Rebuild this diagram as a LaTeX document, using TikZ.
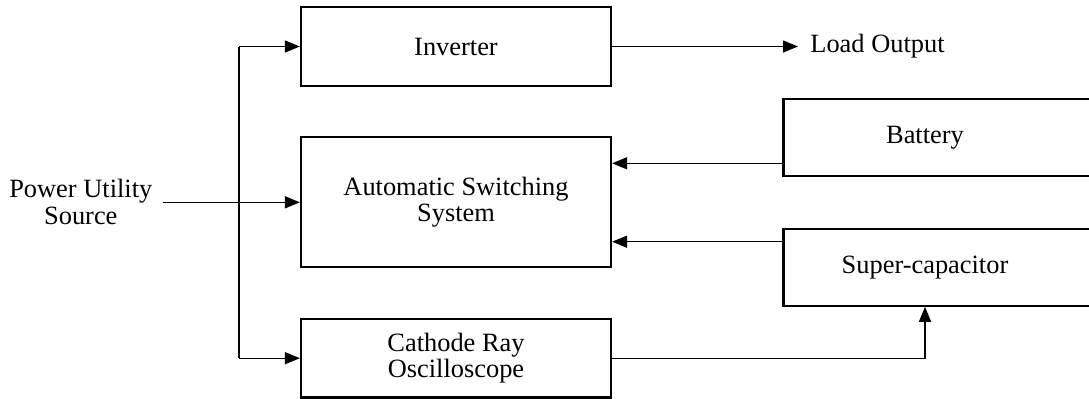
\documentclass[tikz,border=0pt]{standalone}
\usepackage{fontspec}
\setmainfont{Liberation Serif}
\usetikzlibrary{arrows.meta,calc}
\tikzset{
  box/.style={draw=black, line width=1.1pt, rectangle, inner sep=0pt, align=center},
  lbl/.style={inner sep=0pt, align=center},
  conn/.style={draw=black, line width=0.7pt},
  arr/.style={conn, -{Triangle[length=7.5pt,width=6pt]}},
}
\begin{document}
\begin{tikzpicture}[x=0.5pt,y=-0.5pt,
  font=\fontsize{13.2}{13.2}\selectfont]
\useasboundingbox (0,0) rectangle (1089,398);
\clip (0,0) rectangle (1089,398);
\fill[white] (0,0) rectangle (1089,398);
% boxes
\node[box, minimum width=155pt, minimum height=39.2pt] (inv) at (456,46.5) {Inverter};
\node[box, minimum width=155pt, minimum height=65pt] (ass) at (456,202.3) {Automatic Switching\\System};
\node[box, minimum width=155pt, minimum height=39.2pt] (cro) at (456,358.2) {Cathode Ray\\Oscilloscope};
\node[box, minimum width=160pt, minimum height=38.8pt, anchor=west] (bat) at (782.3,137.5) {};
\node[lbl] (battxt) at (925,137.5) {Battery};
\node[box, minimum width=160pt, minimum height=38.5pt, anchor=west] (sc) at (782.3,267.2) {};
\node[lbl] (sctxt) at (925,267.2) {Super-capacitor};
% free labels
\node[lbl, anchor=east] (src) at (152.7,202) {Power Utility\\Source};
\node[lbl, anchor=west] (load) at (810,46.5) {Load Output};
% bus coordinates
\coordinate (busT) at (239,46.5);
\coordinate (busB) at (239,358.2);
\coordinate (srcout) at (163,202.3);
\coordinate (loadin) at (798,46.5);
\coordinate (crojog) at (925,358.2);
% connectors
\draw[arr] (srcout) -- (ass.west);
\draw[conn] (busT) -- (busB);
\draw[arr] (busT) -- (inv.west);
\draw[arr] (busB) -- (cro.west);
\draw[arr] (inv.east) -- (loadin);
\draw[arr] (bat.west |- 0,163.3) -- (ass.east |- 0,163.3);
\draw[arr] (sc.west |- 0,241.7) -- (ass.east |- 0,241.7);
\draw[arr] (cro.east) -- (crojog) -- (crojog |- sc.south);
\end{tikzpicture}
\end{document}
